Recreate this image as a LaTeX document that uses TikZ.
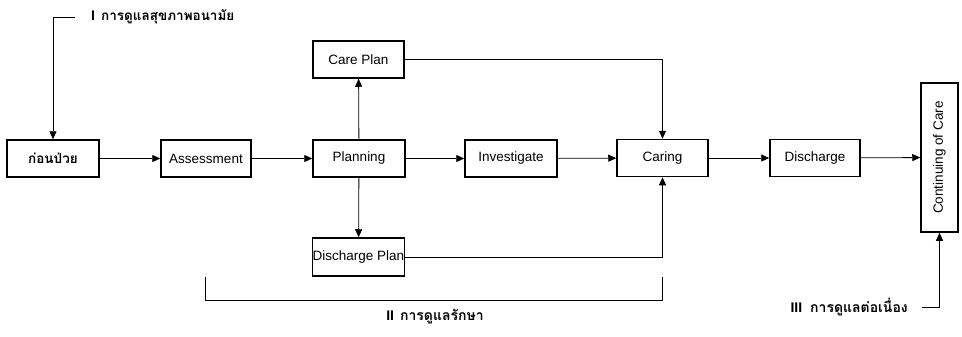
\documentclass[tikz,border=0pt]{standalone}
\usepackage{fontspec}
\setmainfont{Liberation Sans}
\newfontfamily\thaifont[Script=Thai]{Loma}
\usetikzlibrary{arrows.meta}
\begin{document}
\begin{tikzpicture}[x=1pt,y=-1pt,
  box/.style={draw,line width=1.5pt,minimum width=91pt,minimum height=37pt,inner sep=0pt,font=\fontsize{13.5}{15}\selectfont},
  arr/.style={line width=0.8pt,-{Triangle[length=8pt,width=7pt]}},
  ln/.style={line width=0.8pt},
  thai/.style={font=\bfseries\fontsize{14}{16}\selectfont,inner sep=0pt}]
\useasboundingbox (0,0) rectangle (962,337);
\node[box,minimum width=92pt] (before) at (53,158.5) {\thaifont\bfseries ก่อนป่วย};
\node[box,minimum width=90pt] (assess) at (206,158.5) {Assessment};
\node[box,minimum width=92pt] (plan) at (359,158.5) {Planning};
\node[box,minimum width=92pt] (invest) at (511,158.5) {Investigate};
\node[box] (caring) at (662.5,158) {Caring};
\node[box,minimum width=90pt] (disch) at (815,158) {Discharge};
\node[box,minimum width=37pt,minimum height=149pt] (cont) at (939.5,157.5) {\rotatebox{90}{Continuing of Care}};
\node[box] (careplan) at (358.5,59.5) {Care Plan};
\node[box,minimum height=38pt] (dplan) at (358.5,257) {Discharge Plan};
% main flow
\draw[arr] (before) -- (assess);
\draw[arr] (assess) -- (plan);
\draw[arr] (plan) -- (invest);
\draw[arr] (invest) -- (caring);
\draw[arr] (caring) -- (disch);
\draw[arr] (disch) -- (cont);
\draw[arr] (plan) -- (careplan);
\draw[arr] (plan) -- (dplan);
\draw[arr] (careplan.east) -| (caring.north);
\draw[arr] (dplan.east) -| (caring.south);
% I
\coordinate (t1) at (75,17);
\draw[arr] (t1) -| (before.north);
\node[thai,anchor=west] (l1) at (91,17) {I\hspace{6pt}{\thaifont\bfseries\fontsize{13.5}{16}\selectfont การดูแลสุขภาพอนามัย}};
% II
\coordinate (b1) at (205,277);
\coordinate (b2) at (662,277);
\coordinate (b3) at (205,300);
\draw[ln] (b1) -- (b3) -| (b2);
\node[thai] (l2) at (435,317) {II\hspace{6pt}{\thaifont\bfseries การดูแลรักษา}};
% III
\coordinate (t3) at (922,307);
\draw[arr] (t3) -| (cont.south);
\node[thai,anchor=east] (l3) at (908,307) {III\hspace{8pt}{\thaifont\bfseries การดูแลต่อเนื่อง}};
\end{tikzpicture}
\end{document}
